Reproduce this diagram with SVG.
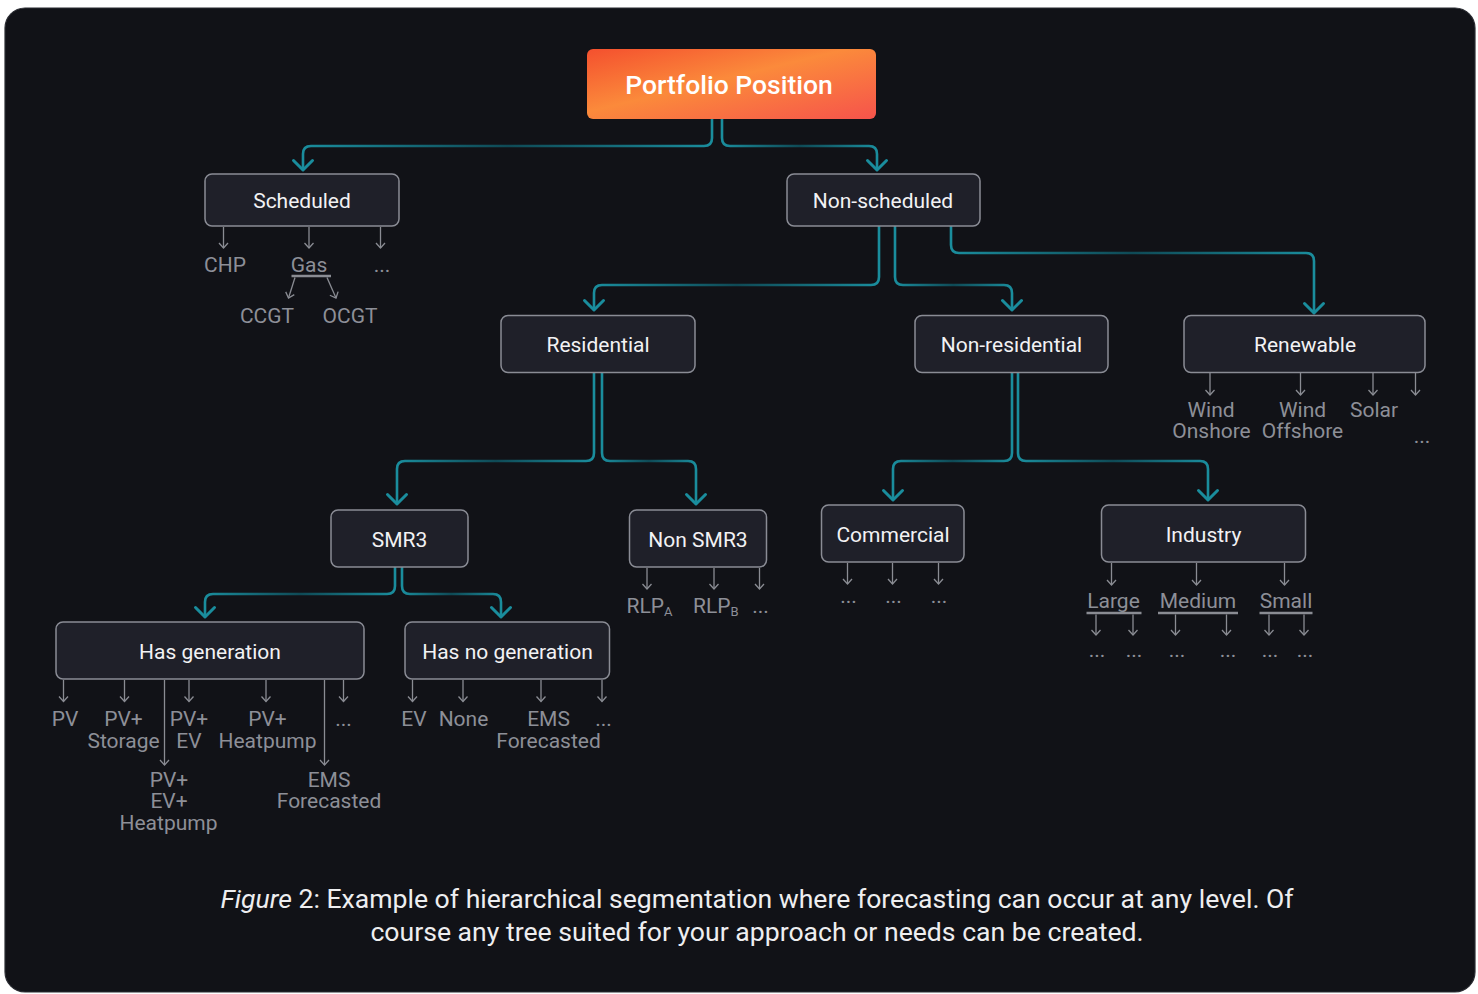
<svg xmlns="http://www.w3.org/2000/svg" width="1478" height="994" viewBox="0 0 1478 994">
<defs>
<style>
.n{font-family:Roboto,"Liberation Sans",sans-serif;font-size:21px;fill:#f2f2f4;text-anchor:middle}
.g{font-family:Roboto,"Liberation Sans",sans-serif;font-size:21px;fill:#8d8f97;text-anchor:middle}
.box{fill:#1f2029;stroke:#8a8c95;stroke-width:1.5}
.c{fill:none;stroke:url(#tg);stroke-width:2.6}
.ga{fill:none;stroke:#8a8c93;stroke-width:1.3;marker-end:url(#gm)}
.ul{stroke:#8a8c93;stroke-width:2.6}
.cap{font-family:Roboto,"Liberation Sans",sans-serif;font-size:26.6px;fill:#eeeef0;text-anchor:middle;font-weight:400}
</style>
<linearGradient id="tg" x1="0" y1="0" x2="1" y2="0">
<stop offset="0" stop-color="#1a8d9d"/>
<stop offset="0.5" stop-color="#0f4a56"/>
<stop offset="1" stop-color="#1a8d9d"/>
</linearGradient>
<linearGradient id="pg" x1="0" y1="0" x2="1" y2="1">
<stop offset="0" stop-color="#f4502e"/>
<stop offset="0.45" stop-color="#fb8a3b"/>
<stop offset="1" stop-color="#f6534b"/>
</linearGradient>
<marker id="tm" markerUnits="userSpaceOnUse" markerWidth="26" markerHeight="26" viewBox="-13 -13 26 26" refX="0" refY="0" orient="auto">
<path d="M-9.5,-9.5 L0,0 L-9.5,9.5" fill="none" stroke="#1a8d9d" stroke-width="3" stroke-linecap="round" stroke-linejoin="round"/>
</marker>
<marker id="gm" markerUnits="userSpaceOnUse" markerWidth="14" markerHeight="14" viewBox="-7 -7 14 14" refX="0" refY="0" orient="auto">
<path d="M-5,-4.5 L0,0 L-5,4.5" fill="none" stroke="#8a8c93" stroke-width="1.3"/>
</marker>
</defs>
<rect x="0" y="0" width="1478" height="994" fill="#ffffff"/>
<rect x="5" y="8" width="1470" height="984" rx="20" fill="#111217" stroke="#2b2d33" stroke-width="1.2"/>

<g id="connectors">
<path class="c" marker-end="url(#tm)" d="M712,119 V138 Q712,146 704,146 H311 Q303,146 303,154 V170"/>
<path class="c" marker-end="url(#tm)" d="M722,119 V138 Q722,146 730,146 H869 Q877,146 877,154 V170"/>
<path class="c" marker-end="url(#tm)" d="M879,226 V277 Q879,285 871,285 H602 Q594,285 594,293 V310"/>
<path class="c" marker-end="url(#tm)" d="M895,226 V277 Q895,285 903,285 H1004 Q1012,285 1012,293 V310"/>
<path class="c" marker-end="url(#tm)" d="M951,226 V245 Q951,253 959,253 H1306 Q1314,253 1314,261 V313"/>
<path class="c" marker-end="url(#tm)" d="M594,373 V453 Q594,461 586,461 H405 Q397,461 397,469 V504"/>
<path class="c" marker-end="url(#tm)" d="M602,373 V453 Q602,461 610,461 H688 Q696,461 696,469 V504"/>
<path class="c" marker-end="url(#tm)" d="M1012,373 V453 Q1012,461 1004,461 H901 Q893,461 893,469 V500"/>
<path class="c" marker-end="url(#tm)" d="M1018,373 V453 Q1018,461 1026,461 H1200 Q1208,461 1208,469 V500"/>
<path class="c" marker-end="url(#tm)" d="M395,567 V586 Q395,594 387,594 H213 Q205,594 205,602 V617"/>
<path class="c" marker-end="url(#tm)" d="M402,567 V586 Q402,594 410,594 H493 Q501,594 501,602 V617"/>
</g>

<g id="portfolio-position">
<rect x="587" y="49" width="289" height="70" rx="6" fill="url(#pg)"/>
<text x="729" y="93.5" class="n" style="font-size:26.5px;font-weight:500;fill:#ffffff">Portfolio Position</text>
</g>

<g id="scheduled">
<rect class="box" x="205" y="174" width="194" height="52" rx="7"/>
<text class="n" x="302" y="208">Scheduled</text>
<line class="ga" x1="223.5" y1="227" x2="223.5" y2="248"/>
<line class="ga" x1="309" y1="227" x2="309" y2="248"/>
<line class="ga" x1="380.5" y1="227" x2="380.5" y2="248"/>
<text class="g" x="225" y="272">CHP</text>
<text class="g" x="309" y="272">Gas</text>
<line class="ul" x1="291.5" y1="276" x2="331" y2="276"/>
<text class="g" x="382" y="272">...</text>
<line class="ga" x1="295" y1="277.5" x2="288.5" y2="298"/>
<line class="ga" x1="327" y1="277.5" x2="336" y2="298"/>
<text class="g" x="267" y="323">CCGT</text>
<text class="g" x="350" y="323">OCGT</text>
</g>

<g id="non-scheduled">
<rect class="box" x="787" y="174" width="193" height="52" rx="7"/>
<text class="n" x="883" y="208">Non-scheduled</text>
</g>

<g id="residential">
<rect class="box" x="501" y="315.5" width="194" height="57" rx="7"/>
<text class="n" x="598" y="352">Residential</text>
</g>

<g id="non-residential">
<rect class="box" x="915" y="315.5" width="193" height="57" rx="7"/>
<text class="n" x="1011.5" y="352">Non-residential</text>
</g>

<g id="renewable">
<rect class="box" x="1184" y="315.5" width="241" height="57" rx="7"/>
<text class="n" x="1305" y="352">Renewable</text>
<line class="ga" x1="1210" y1="373" x2="1210" y2="395"/>
<line class="ga" x1="1300.5" y1="373" x2="1300.5" y2="395"/>
<line class="ga" x1="1373" y1="373" x2="1373" y2="395"/>
<line class="ga" x1="1415.5" y1="373" x2="1415.5" y2="395"/>
<text class="g" x="1211" y="416.5">Wind</text>
<text class="g" x="1211.5" y="438">Onshore</text>
<text class="g" x="1302.5" y="416.5">Wind</text>
<text class="g" x="1302.5" y="438">Offshore</text>
<text class="g" x="1374" y="416.5">Solar</text>
<text class="g" x="1422" y="443">...</text>
</g>

<g id="smr3">
<rect class="box" x="331" y="510" width="137" height="57" rx="7"/>
<text class="n" x="399.5" y="547">SMR3</text>
</g>

<g id="non-smr3">
<rect class="box" x="629.5" y="510" width="137" height="57" rx="7"/>
<text class="n" x="698" y="547">Non SMR3</text>
<line class="ga" x1="647" y1="568" x2="647" y2="589"/>
<line class="ga" x1="714" y1="568" x2="714" y2="589"/>
<line class="ga" x1="759.5" y1="568" x2="759.5" y2="589"/>
<text class="g" x="626.5" y="613" style="text-anchor:start">RLP<tspan style="font-size:13px" dy="3">A</tspan></text>
<text class="g" x="693" y="613" style="text-anchor:start">RLP<tspan style="font-size:13px" dy="3">B</tspan></text>
<text class="g" x="760.5" y="613">...</text>
</g>

<g id="commercial">
<rect class="box" x="821.5" y="505" width="142.5" height="57" rx="7"/>
<text class="n" x="893" y="542">Commercial</text>
<line class="ga" x1="847.5" y1="563" x2="847.5" y2="584"/>
<line class="ga" x1="892.5" y1="563" x2="892.5" y2="584"/>
<line class="ga" x1="938.5" y1="563" x2="938.5" y2="584"/>
<text class="g" x="848.5" y="603">...</text>
<text class="g" x="893.5" y="603">...</text>
<text class="g" x="939" y="603">...</text>
</g>

<g id="industry">
<rect class="box" x="1101.5" y="505" width="204" height="57" rx="7"/>
<text class="n" x="1203.5" y="542">Industry</text>
<line class="ga" x1="1111.5" y1="563" x2="1111.5" y2="585"/>
<line class="ga" x1="1196.5" y1="563" x2="1196.5" y2="585"/>
<line class="ga" x1="1284.5" y1="563" x2="1284.5" y2="585"/>
<text class="g" x="1113.5" y="607.5">Large</text>
<text class="g" x="1198" y="607.5">Medium</text>
<text class="g" x="1286" y="607.5">Small</text>
<line class="ul" x1="1086.5" y1="613" x2="1141.5" y2="613"/>
<line class="ul" x1="1158" y1="613" x2="1238" y2="613"/>
<line class="ul" x1="1259.5" y1="613" x2="1312.5" y2="613"/>
<line class="ga" x1="1096" y1="614.5" x2="1096" y2="635"/>
<line class="ga" x1="1133" y1="614.5" x2="1133" y2="635"/>
<line class="ga" x1="1175.5" y1="614.5" x2="1175.5" y2="635"/>
<line class="ga" x1="1226.5" y1="614.5" x2="1226.5" y2="635"/>
<line class="ga" x1="1269" y1="614.5" x2="1269" y2="635"/>
<line class="ga" x1="1304" y1="614.5" x2="1304" y2="635"/>
<text class="g" x="1097" y="657">...</text>
<text class="g" x="1134" y="657">...</text>
<text class="g" x="1177" y="657">...</text>
<text class="g" x="1228" y="657">...</text>
<text class="g" x="1270" y="657">...</text>
<text class="g" x="1305" y="657">...</text>
</g>

<g id="has-generation">
<rect class="box" x="56" y="622" width="308" height="57" rx="7"/>
<text class="n" x="210" y="659">Has generation</text>
<line class="ga" x1="63.5" y1="680" x2="63.5" y2="701.5"/>
<line class="ga" x1="124.5" y1="680" x2="124.5" y2="701.5"/>
<line class="ga" x1="189" y1="680" x2="189" y2="701.5"/>
<line class="ga" x1="266" y1="680" x2="266" y2="701.5"/>
<line class="ga" x1="343.5" y1="680" x2="343.5" y2="701.5"/>
<line class="ga" x1="164.5" y1="680" x2="164.5" y2="765"/>
<line class="ga" x1="324.5" y1="680" x2="324.5" y2="765"/>
<text class="g" x="65" y="726">PV</text>
<text class="g" x="123.5" y="726">PV+</text>
<text class="g" x="123.5" y="747.5">Storage</text>
<text class="g" x="189" y="726">PV+</text>
<text class="g" x="189" y="747.5">EV</text>
<text class="g" x="267.5" y="726">PV+</text>
<text class="g" x="267.5" y="747.5">Heatpump</text>
<text class="g" x="343.5" y="726">...</text>
<text class="g" x="169" y="786.5">PV+</text>
<text class="g" x="169" y="808">EV+</text>
<text class="g" x="168.5" y="829.5">Heatpump</text>
<text class="g" x="329" y="786.5">EMS</text>
<text class="g" x="329" y="808">Forecasted</text>
</g>

<g id="has-no-generation">
<rect class="box" x="405" y="622" width="204.5" height="57" rx="7"/>
<text class="n" x="507.5" y="659">Has no generation</text>
<line class="ga" x1="412.5" y1="680" x2="412.5" y2="701.5"/>
<line class="ga" x1="463" y1="680" x2="463" y2="701.5"/>
<line class="ga" x1="541" y1="680" x2="541" y2="701.5"/>
<line class="ga" x1="602" y1="680" x2="602" y2="701.5"/>
<text class="g" x="414" y="726">EV</text>
<text class="g" x="463.5" y="726">None</text>
<text class="g" x="548.5" y="726">EMS</text>
<text class="g" x="548.5" y="747.5">Forecasted</text>
<text class="g" x="603.5" y="726">...</text>
</g>

<g id="caption">
<text class="cap" x="757" y="908"><tspan style="font-style:italic">Figure</tspan> 2: Example of hierarchical segmentation where forecasting can occur at any level. Of</text>
<text class="cap" x="757" y="941">course any tree suited for your approach or needs can be created.</text>
</g>
</svg>
